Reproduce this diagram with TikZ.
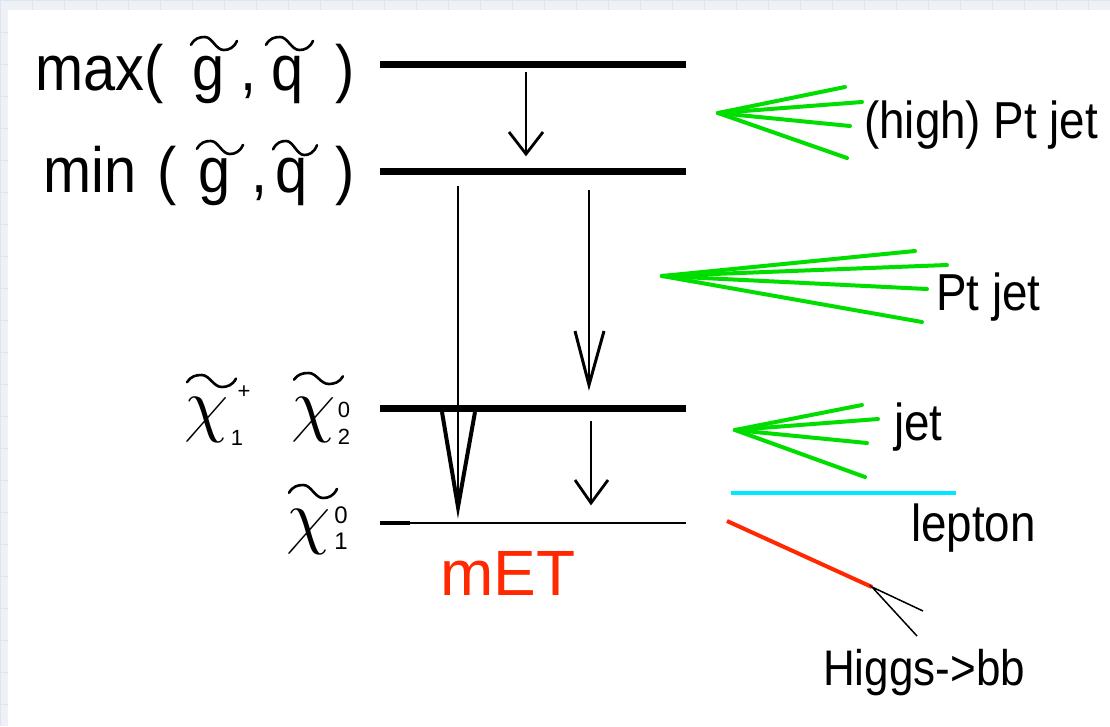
\documentclass[tikz,border=0pt]{standalone}
\usepackage{fontspec}
\setmainfont{Liberation Sans}
\definecolor{jetgreen}{RGB}{0,222,0}
\definecolor{lepcyan}{RGB}{0,232,255}
\definecolor{higgsred}{RGB}{255,40,0}
\definecolor{gridbg}{RGB}{238,241,246}
\definecolor{gridln}{RGB}{222,229,238}
\begin{document}
\begin{tikzpicture}[x=1pt,y=-1pt,
  level/.style={line width=7pt},
  thinlevel/.style={line width=2pt},
  shaft/.style={line width=2.8pt},
  vhead/.style={line width=2.8pt, miter limit=30},
  bighead/.style={line width=4pt, miter limit=40},
  jetline/.style={jetgreen, line width=4pt, line cap=round},
  lbl/.style={inner sep=0pt, anchor=base west, xscale=0.88, font=\fontsize{52}{52}\selectfont},
  biglbl/.style={inner sep=0pt, anchor=base west, xscale=2.32, yscale=2.57, font=\fontsize{24.88}{26}\selectfont},
  chilbl/.style={inner sep=0pt, anchor=base west, scale=2.9, font=\fontsize{24.88}{26}\selectfont},
  scr/.style={inner sep=0pt, anchor=center, font=\fontsize{22}{22}\selectfont},
  tilde/.pic={\draw[line width=2.6pt, line cap=round] (0,0.6) .. controls (0.08,0.1) and (0.18,0) .. (0.3,0) .. controls (0.46,0) and (0.54,1) .. (0.71,1) .. controls (0.82,1) and (0.93,0.85) .. (1,0.3);}]
\useasboundingbox (0,0) rectangle (1110,726);
% background
\fill[gridbg] (0,0) rectangle (1110,726);
\foreach \gx in {0,32,...,1110} {\draw[gridln, line width=1pt] (\gx,0) -- (\gx,726);}
\foreach \gy in {0,32,...,726} {\draw[gridln, line width=1pt] (0,\gy) -- (1110,\gy);}
\fill[white] (8,10) rectangle (1110,726);

% levels
\coordinate (l1a) at (380,64);  \coordinate (l1b) at (686,64);
\coordinate (l2a) at (380,171); \coordinate (l2b) at (686,171);
\coordinate (l3a) at (380,408); \coordinate (l3b) at (686,408);
\coordinate (l4a) at (380,523); \coordinate (l4b) at (686,523);
\coordinate (l4c) at (410,523);
\draw[level] (l1a) -- (l1b);
\draw[level] (l2a) -- (l2b);
\draw[level] (l3a) -- (l3b);
\draw[thinlevel] (l4a) -- (l4b);
\draw[line width=4pt] (l4a) -- (l4c);

% labels left
\node[biglbl] (maxl) at (35,90) {max(\hspace{0.5em}g\hspace{0.27em},\hspace{0.26em}q\hspace{0.55em})};
\node[biglbl] (minl) at (43,192) {min\hspace{0.37em}(\hspace{0.38em}g\hspace{0.36em},\hspace{0.14em}q\hspace{0.47em})};
\pic[xscale=46, yscale=13] at (191,37) {tilde};
\pic[xscale=47, yscale=13] at (266,37) {tilde};
\pic[xscale=46, yscale=13] at (197,141) {tilde};
\pic[xscale=44, yscale=14] at (273,141) {tilde};

\node[chilbl] (chi1p) at (184,428) {$\chi$};
\pic[xscale=49, yscale=12] at (187,375) {tilde};
\node[scr] (chi1ps) at (244,392) {+};
\node[scr] (chi1pb) at (237,438) {1};
\node[chilbl] (chi2) at (291,428) {$\chi$};
\pic[xscale=49, yscale=11] at (294,373) {tilde};
\node[scr] (chi2s) at (344,410) {0};
\node[scr] (chi2b) at (344,437) {2};
\node[chilbl] (chi1) at (286,540) {$\chi$};
\pic[xscale=48, yscale=13] at (289,485) {tilde};
\node[scr, font=\fontsize{24}{24}\selectfont] (chi1s) at (341,515) {0};
\node[scr, font=\fontsize{24}{24}\selectfont] (chi1b) at (341,541) {1};

\node[inner sep=0pt, anchor=base west, text=higgsred, font=\fontsize{64}{64}\selectfont] (met) at (440,595) {mET};

% arrows
\coordinate (a1s) at (526,72);  \coordinate (a1t) at (526,154);
\coordinate (a1l) at (509,132); \coordinate (a1r) at (543,132);
\draw[shaft] (a1s) -- (a1t);
\draw[vhead] (a1l) -- (a1t) -- (a1r);

\coordinate (a2s) at (458,186); \coordinate (a2t) at (458,507);
\coordinate (a2l) at (442,412); \coordinate (a2r) at (475,412);
\draw[shaft] (a2s) -- (a2t);
\draw[bighead] (a2l) -- (a2t) -- (a2r);

\coordinate (a3s) at (589,190); \coordinate (a3t) at (589,385);
\coordinate (a3l) at (575,331); \coordinate (a3r) at (604,331);
\draw[shaft] (a3s) -- (a3t);
\draw[line width=3pt, miter limit=30] (a3l) -- (a3t) -- (a3r);

\coordinate (a4s) at (591,421); \coordinate (a4t) at (591,503);
\coordinate (a4l) at (575,480); \coordinate (a4r) at (608,480);
\draw[shaft] (a4s) -- (a4t);
\draw[vhead] (a4l) -- (a4t) -- (a4r);

% jets
\coordinate (j1) at (718,113);
\foreach \ex/\ey [count=\i] in {845/87,862/102,850/126,847/158} {\coordinate (j1e\i) at (\ex,\ey);}
\foreach \i in {1,...,4} {\draw[jetline] (j1) -- (j1e\i);}
\node[lbl] (hpt) at (864,138) {(high) Pt jet};

\coordinate (j2) at (662,276);
\foreach \ex/\ey [count=\i] in {915/251,947/265,927/289,922/322} {\coordinate (j2e\i) at (\ex,\ey);}
\foreach \i in {1,...,4} {\draw[jetline] (j2) -- (j2e\i);}
\node[lbl] (pt) at (936,310) {Pt jet};

\coordinate (j3) at (735,430);
\foreach \ex/\ey [count=\i] in {862/405,878/419,867/443,865/477} {\coordinate (j3e\i) at (\ex,\ey);}
\foreach \i in {1,...,4} {\draw[jetline] (j3) -- (j3e\i);}
\node[lbl] (jet) at (894,440) {jet};

% lepton
\coordinate (lep1) at (731,493); \coordinate (lep2) at (956,493);
\draw[lepcyan, line width=4pt] (lep1) -- (lep2);
\node[lbl] (lep) at (911,541) {lepton};

% higgs
\coordinate (h1) at (727,521); \coordinate (h2) at (872,587);
\coordinate (b1) at (923,611); \coordinate (b2) at (917,636);
\draw[higgsred, line width=4pt] (h1) -- (h2);
\draw[line width=1.5pt] (b1) -- (h2) -- (b2);
\node[lbl, font=\fontsize{50}{50}\selectfont] (hig) at (823,685) {Higgs->bb};
\end{tikzpicture}
\end{document}
